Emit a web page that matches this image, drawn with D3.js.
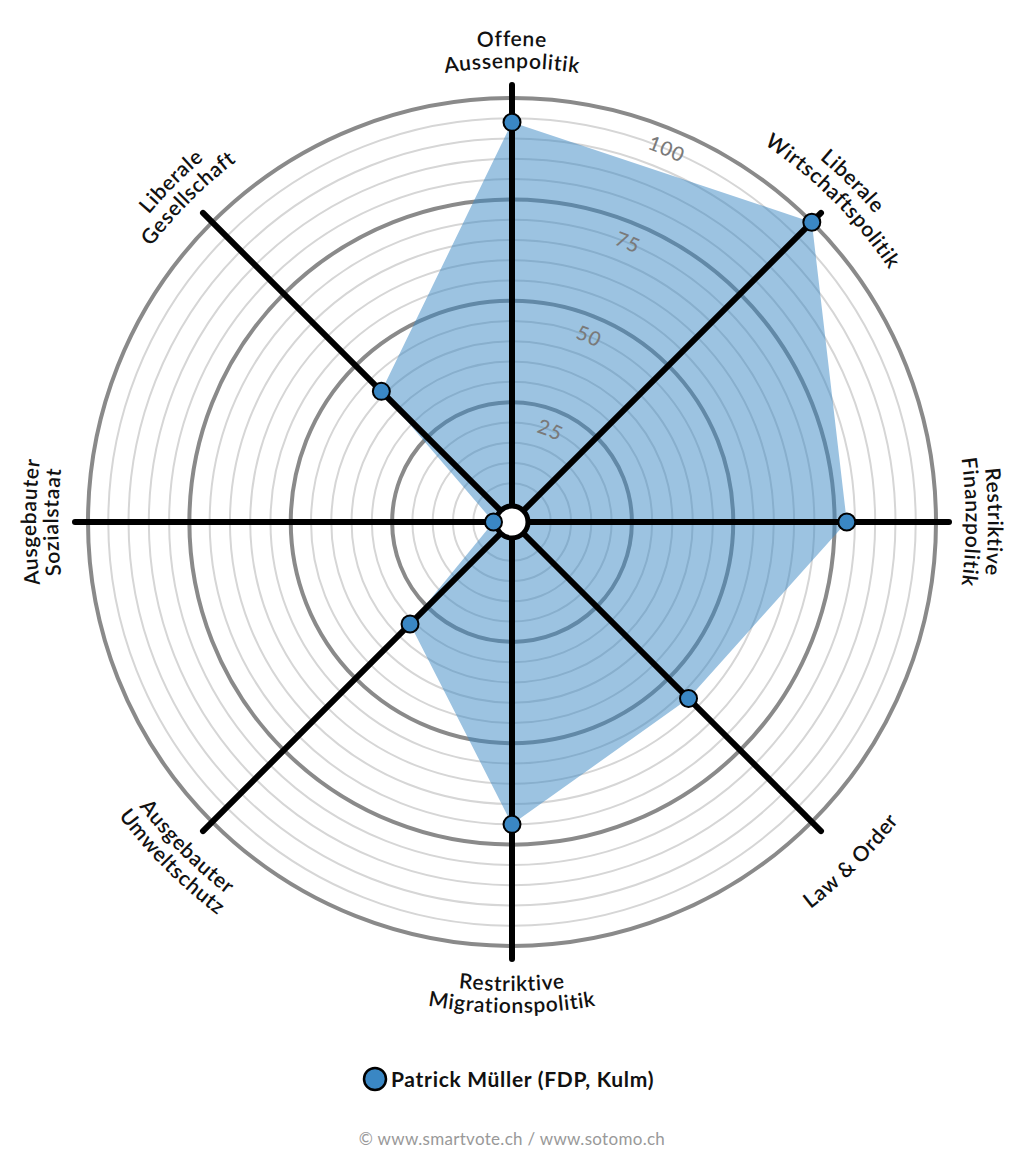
<!DOCTYPE html>
<html>
<head>
<meta charset="utf-8">
<script src="https://cdn.jsdelivr.net/npm/d3@7"></script>
<style>
  html, body { margin: 0; padding: 0; background: #fff; }
  svg { display: block; font-family: "Lato", "Open Sans", sans-serif; }
</style>
</head>
<body>
<svg id="chart" width="1024" height="1166"></svg>
<script>
// ---- data ----
const categories = [
  "Offene Aussenpolitik",
  "Liberale Wirtschaftspolitik",
  "Restriktive Finanzpolitik",
  "Law & Order",
  "Restriktive Migrationspolitik",
  "Ausgebauter Umweltschutz",
  "Ausgebauter Sozialstaat",
  "Liberale Gesellschaft"
];
const labelLines = [
  ["Offene", "Aussenpolitik"],
  ["Liberale", "Wirtschaftspolitik"],
  ["Restriktive", "Finanzpolitik"],
  ["Law & Order"],
  ["Restriktive", "Migrationspolitik"],
  ["Ausgebauter", "Umweltschutz"],
  ["Ausgebauter", "Sozialstaat"],
  ["Liberale", "Gesellschaft"]
];
const values = [94, 100, 78, 57, 70, 31, 0, 41];
const seriesName = "Patrick Müller (FDP, Kulm)";
const majorTicks = [25, 50, 75, 100];
const minorTicks = [5,10,15,20,30,35,40,45,55,60,65,70,80,85,90,95];
const footerText = "© www.smartvote.ch / www.sotomo.ch";

// ---- layout ----
const cx = 512, cy = 522;
const svg = d3.select("#chart");
const r = d3.scaleLinear().domain([0, 100]).range([18.5, 424]);
const angle = d3.scalePoint().domain(categories).range([0, 2 * Math.PI * (categories.length - 1) / categories.length]);
const blue = "#3a87c4";

const g = svg.append("g").attr("transform", `translate(${cx},${cy})`);
const defs = svg.append("defs");

function pt(a, rad) { return [rad * Math.sin(a), -rad * Math.cos(a)]; }

function arcPath(a, rad, cw) {
  const a0 = cw ? a - Math.PI / 2 : a + Math.PI / 2;
  const a1 = cw ? a + Math.PI / 2 : a - Math.PI / 2;
  const p0 = pt(a0, rad), p1 = pt(a1, rad);
  return `M${p0[0]},${p0[1]} A${rad},${rad} 0 0 ${cw ? 1 : 0} ${p1[0]},${p1[1]}`;
}

// minor circles
g.selectAll("circle.minor").data(minorTicks).join("circle")
  .attr("r", d => r(d)).attr("fill", "none")
  .attr("stroke", "#d6d6d6").attr("stroke-width", 2);
// major circles
g.selectAll("circle.major").data(majorTicks).join("circle")
  .attr("r", d => r(d)).attr("fill", "none")
  .attr("stroke", "#8a8a8a").attr("stroke-width", 4);

// tick labels (curved, along 22.5deg)
const tickAngle = Math.PI / 8;
majorTicks.forEach((t, i) => {
  const id = "tick" + i;
  defs.append("path").attr("id", id)
    .attr("d", arcPath(tickAngle, r(t) - 27, true))
    .attr("transform", `translate(${cx},${cy})`);
  svg.append("text")
    .attr("font-size", 20).attr("fill", "#7a7a7a").attr("font-weight", 500)
    .attr("letter-spacing", 0.8)
    .append("textPath").attr("href", "#" + id)
    .attr("startOffset", "50%").attr("text-anchor", "middle")
    .text(t);
});

// polygon fill
const line = d3.lineRadial()
  .angle((d, i) => angle(categories[i]))
  .radius(d => r(d))
  .curve(d3.curveLinearClosed);
g.append("path").datum(values)
  .attr("d", line)
  .attr("fill", blue).attr("fill-opacity", 0.5).attr("stroke", "none");

// axes
g.selectAll("line.axis").data(categories).join("line")
  .attr("x1", 0).attr("y1", 0)
  .attr("x2", d => pt(angle(d), 437)[0])
  .attr("y2", d => pt(angle(d), 437)[1])
  .attr("stroke", "#000").attr("stroke-width", 6).attr("stroke-linecap", "round");

// center circle
g.append("circle").attr("r", 16).attr("fill", "#fff")
  .attr("stroke", "#000").attr("stroke-width", 5);

// points
g.selectAll("circle.pt").data(values).join("circle")
  .attr("cx", (d, i) => pt(angle(categories[i]), r(d))[0])
  .attr("cy", (d, i) => pt(angle(categories[i]), r(d))[1])
  .attr("r", 8.5).attr("fill", blue)
  .attr("stroke", "#000").attr("stroke-width", 2);

// axis labels (curved)
categories.forEach((c, i) => {
  const a = angle(c);
  const deg = a * 180 / Math.PI;
  const cw = !(deg > 90.5 && deg < 269.5);
  const lines = labelLines[i];
  let radii;
  if (lines.length === 1) {
    radii = [cw ? 474 : 489];
  } else {
    radii = cw ? [476, 454] : [469, 491];
  }
  lines.forEach((txt, j) => {
    const id = `lab${i}_${j}`;
    defs.append("path").attr("id", id)
      .attr("d", arcPath(a, radii[j], cw))
      .attr("transform", `translate(${cx},${cy})`);
    svg.append("text")
      .attr("font-size", 21).attr("font-weight", 600).attr("fill", "#111")
      .attr("letter-spacing", 0.7)
      .append("textPath").attr("href", "#" + id)
      .attr("startOffset", "50%").attr("text-anchor", "middle")
      .text(txt);
  });
});

// legend
const leg = svg.append("g").attr("transform", "translate(375,1079)");
leg.append("circle").attr("r", 11).attr("fill", blue)
  .attr("stroke", "#000").attr("stroke-width", 2.5);
leg.append("text").attr("x", 16).attr("y", 7.5)
  .attr("font-size", 21).attr("font-weight", 700).attr("fill", "#111")
  .attr("letter-spacing", 0.7)
  .text(seriesName);

// footer
svg.append("text").attr("x", 512).attr("y", 1145)
  .attr("text-anchor", "middle").attr("font-size", 17).attr("fill", "#999")
  .attr("letter-spacing", 0.3)
  .text(footerText);
</script>
</body>
</html>
